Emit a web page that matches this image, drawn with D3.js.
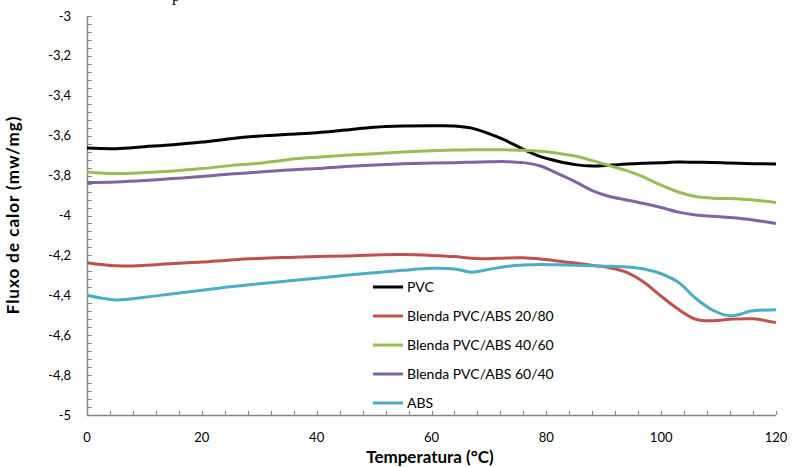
<!DOCTYPE html>
<html>
<head>
<meta charset="utf-8">
<script src="https://cdn.jsdelivr.net/npm/d3@7/dist/d3.min.js"></script>
<style>
  body { margin: 0; background: #fff; }
  svg { display: block; }
  .tick-label { font-family: Lato, "Open Sans", sans-serif; font-size: 13px; fill: #000; }
  .axis-title { font-family: Lato, "Open Sans", sans-serif; font-size: 17px; font-weight: 700; fill: #000; }
  .legend-label { font-family: Lato, "Open Sans", sans-serif; font-size: 14px; fill: #000; }
</style>
</head>
<body>
<div id="chart"></div>
<script>
// temperatures (°C) where the curves were read
const temps = [0, 5, 10, 15, 20, 25, 30, 35, 40, 45, 50, 55, 60, 64, 67, 70, 73, 76, 79, 82, 85, 88, 91, 94, 97, 100, 103, 106, 109, 112, 116, 120];

const pvc = [-3.662, -3.665, -3.655, -3.645, -3.632, -3.615, -3.602, -3.593, -3.585, -3.572, -3.558, -3.552, -3.550, -3.551, -3.562, -3.590, -3.625, -3.668, -3.705, -3.728, -3.745, -3.752, -3.748, -3.742, -3.738, -3.735, -3.732, -3.733, -3.734, -3.737, -3.740, -3.742];
const blend2080 = [-4.237, -4.252, -4.250, -4.240, -4.233, -4.223, -4.215, -4.210, -4.206, -4.203, -4.198, -4.196, -4.200, -4.206, -4.214, -4.217, -4.213, -4.212, -4.218, -4.228, -4.238, -4.250, -4.262, -4.285, -4.335, -4.405, -4.470, -4.520, -4.528, -4.520, -4.518, -4.537];
const blend4060 = [-3.782, -3.790, -3.785, -3.777, -3.765, -3.750, -3.738, -3.720, -3.708, -3.698, -3.690, -3.682, -3.676, -3.672, -3.670, -3.670, -3.671, -3.673, -3.678, -3.688, -3.702, -3.725, -3.750, -3.775, -3.808, -3.848, -3.882, -3.905, -3.913, -3.915, -3.922, -3.935];
const blend6040 = [-3.835, -3.832, -3.825, -3.815, -3.805, -3.792, -3.782, -3.772, -3.765, -3.755, -3.747, -3.740, -3.737, -3.735, -3.733, -3.731, -3.730, -3.735, -3.752, -3.790, -3.830, -3.875, -3.905, -3.922, -3.940, -3.960, -3.983, -3.997, -4.004, -4.010, -4.022, -4.040];
const abs = [-4.400, -4.423, -4.410, -4.392, -4.375, -4.357, -4.342, -4.328, -4.315, -4.300, -4.287, -4.275, -4.265, -4.268, -4.284, -4.270, -4.256, -4.248, -4.245, -4.247, -4.250, -4.252, -4.254, -4.258, -4.268, -4.292, -4.335, -4.415, -4.475, -4.503, -4.478, -4.473];

const seriesNames = ["PVC", "Blenda PVC/ABS 20/80", "Blenda PVC/ABS 40/60", "Blenda PVC/ABS 60/40", "ABS"];
const seriesValues = [pvc, blend2080, blend4060, blend6040, abs];
const seriesColors = ["#000000", "#C0504D", "#9BBB59", "#8064A2", "#4BACC6"];

const xTicks = [0, 20, 40, 60, 80, 100, 120];
const yTicks = [-3, -3.2, -3.4, -3.6, -3.8, -4, -4.2, -4.4, -4.6, -4.8, -5];
const yTickLabels = ["-3", "-3,2", "-3,4", "-3,6", "-3,8", "-4", "-4,2", "-4,4", "-4,6", "-4,8", "-5"];

const width = 792, height = 467;
const margin = { left: 87, right: 16, top: 16, bottom: 52 };

const svg = d3.select("#chart").append("svg")
  .attr("width", width)
  .attr("height", height);

const x = d3.scaleLinear().domain([0, 120]).range([margin.left, width - margin.right]);
const y = d3.scaleLinear().domain([-5, -3]).range([height - margin.bottom, margin.top]);

// stray glyph from the page above the chart
svg.append("text")
  .attr("x", 172)
  .attr("y", 1)
  .style("font-family", "Liberation Serif, serif")
  .style("font-size", "16px")
  .text("p");

const axisColor = "#868686";

// minor ticks, pointing into the plot
const yMinor = d3.range(0, 51).map(i => -5 + i * 0.04);
svg.append("g")
  .selectAll("line")
  .data(yMinor)
  .enter()
  .append("line")
  .attr("x1", x(0))
  .attr("x2", x(0) + 5)
  .attr("y1", d => Math.round(y(d)) + 0.5)
  .attr("y2", d => Math.round(y(d)) + 0.5)
  .attr("stroke", axisColor);

const xMinor = d3.range(0, 31).map(i => i * 4);
svg.append("g")
  .selectAll("line")
  .data(xMinor)
  .enter()
  .append("line")
  .attr("x1", d => Math.round(x(d)) + 0.5)
  .attr("x2", d => Math.round(x(d)) + 0.5)
  .attr("y1", y(-5))
  .attr("y2", y(-5) - 4)
  .attr("stroke", axisColor);

// axis lines
svg.append("line")
  .attr("x1", Math.round(x(0)) + 0.5)
  .attr("x2", Math.round(x(0)) + 0.5)
  .attr("y1", y(-3))
  .attr("y2", y(-5))
  .attr("stroke", axisColor)
  .attr("stroke-width", 1.5);

svg.append("line")
  .attr("x1", x(0))
  .attr("x2", x(120))
  .attr("y1", Math.round(y(-5)) + 0.5)
  .attr("y2", Math.round(y(-5)) + 0.5)
  .attr("stroke", axisColor)
  .attr("stroke-width", 1.5);

// tick labels
svg.append("g")
  .selectAll("text")
  .data(yTicks)
  .enter()
  .append("text")
  .attr("class", "tick-label")
  .attr("x", x(0) - 16)
  .attr("y", d => y(d))
  .attr("dy", "0.35em")
  .attr("text-anchor", "end")
  .text((d, i) => yTickLabels[i]);

svg.append("g")
  .selectAll("text")
  .data(xTicks)
  .enter()
  .append("text")
  .attr("class", "tick-label")
  .attr("x", d => x(d))
  .attr("y", y(-5) + 27)
  .attr("text-anchor", "middle")
  .text(d => d);

// axis titles
svg.append("text")
  .attr("class", "axis-title")
  .attr("x", 430)
  .attr("y", 463)
  .attr("text-anchor", "middle")
  .text("Temperatura (°C)");

svg.append("text")
  .attr("class", "axis-title")
  .attr("transform", "translate(19,215) rotate(-90)")
  .attr("text-anchor", "middle")
  .style("letter-spacing", "1px")
  .text("Fluxo de calor (mw/mg)");

// curves
const line = d3.line()
  .x((d, i) => x(temps[i]))
  .y(d => y(d))
  .curve(d3.curveCatmullRom.alpha(0.5));

svg.append("g")
  .selectAll("path")
  .data(seriesValues)
  .enter()
  .append("path")
  .attr("d", d => line(d))
  .attr("fill", "none")
  .attr("stroke", (d, i) => seriesColors[i])
  .attr("stroke-width", 3)
  .attr("stroke-linejoin", "round");

// legend
const legend = svg.append("g")
  .selectAll("g")
  .data(seriesNames)
  .enter()
  .append("g")
  .attr("transform", (d, i) => "translate(373," + (287 + i * 29) + ")");

legend.append("line")
  .attr("x1", 0)
  .attr("x2", 30)
  .attr("stroke", (d, i) => seriesColors[i])
  .attr("stroke-width", 3);

legend.append("text")
  .attr("class", "legend-label")
  .attr("x", 34)
  .attr("dy", "0.35em")
  .text(d => d);
</script>
</body>
</html>
